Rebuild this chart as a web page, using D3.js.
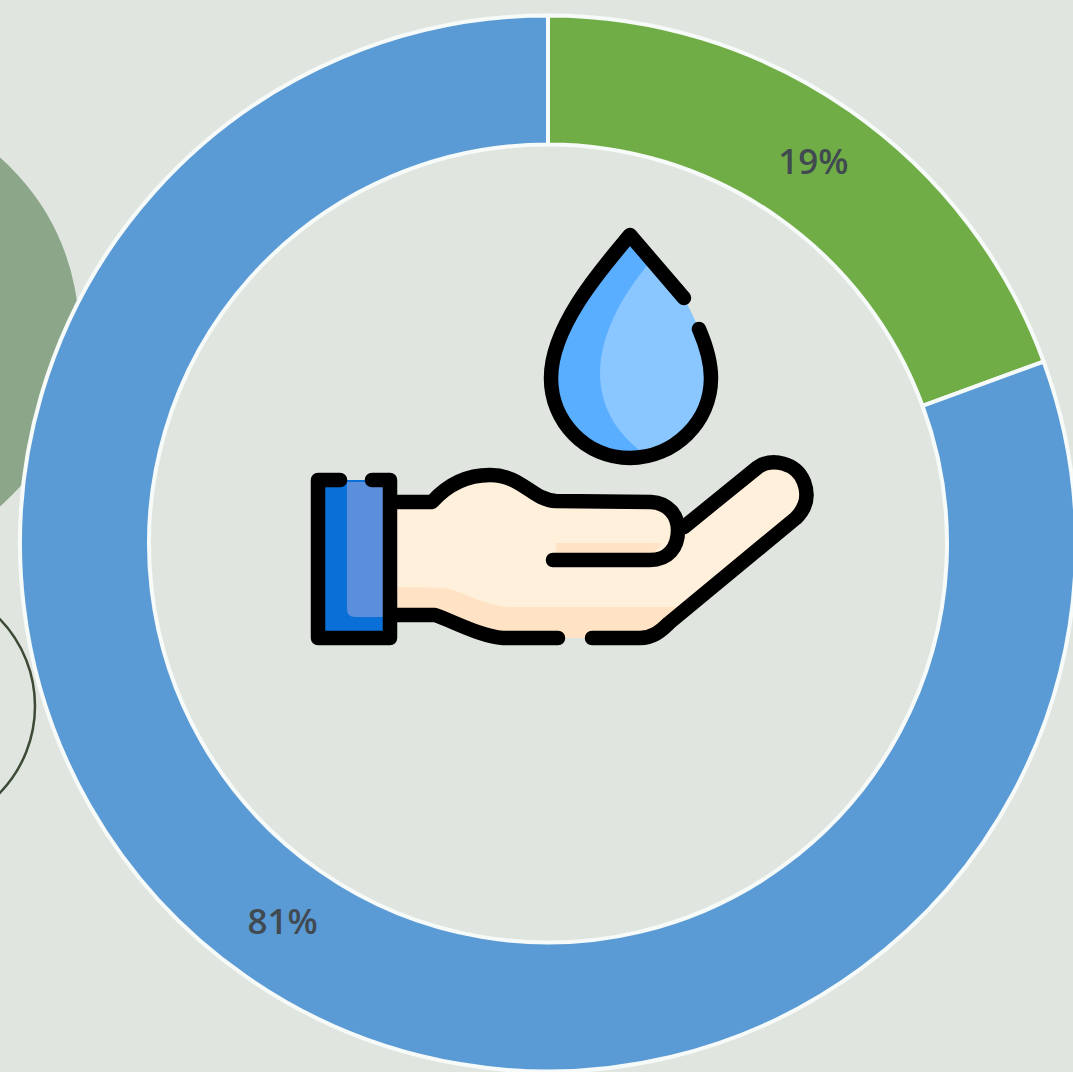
<!DOCTYPE html>
<html>
<head>
<meta charset="utf-8">
<title>Water share</title>
<script src="https://cdn.jsdelivr.net/npm/d3@7"></script>
<style>
  html, body { margin: 0; padding: 0; background: #e0e6df; overflow: hidden; }
  svg { display: block; }
</style>
</head>
<body>
<svg id="chart"></svg>
<script>
var categories = ["Green", "Blue"];
var values = [19.4, 80.6];
var labels = ["19%", "81%"];
var colors = ["#70ad47", "#5b9bd5"];

(function () {
  var W = 1073;
  var H = 1072;
  var cx = 548;
  var cy = 543.5;
  var outerR = 528;
  var innerR = 399;

  var svg = d3.select("#chart").attr("width", W).attr("height", H);

  svg.append("rect").attr("width", W).attr("height", H).attr("fill", "#e0e6df");

  // slide decoration behind the ring
  svg.append("circle")
    .attr("cx", -153).attr("cy", 332).attr("r", 232)
    .attr("fill", "#8ca68a");
  svg.append("circle")
    .attr("cx", -90).attr("cy", 706).attr("r", 125)
    .attr("fill", "none")
    .attr("stroke", "#3c4a36")
    .attr("stroke-width", 2.5);

  var pie = d3.pie().sort(null).value(function (d) { return d.value; });
  var arc = d3.arc().innerRadius(innerR).outerRadius(outerR);

  var rows = categories.map(function (c, i) {
    return { name: c, value: values[i], label: labels[i], color: colors[i] };
  });

  var g = svg.append("g").attr("transform", "translate(" + cx + "," + cy + ")");

  g.selectAll("path.slice")
    .data(pie(rows))
    .join("path")
    .attr("class", "slice")
    .attr("d", arc)
    .attr("fill", function (d) { return d.data.color; })
    .attr("stroke", "#f6faf8")
    .attr("stroke-width", 4);

  g.selectAll("text.pct")
    .data(pie(rows))
    .join("text")
    .attr("class", "pct")
    .attr("transform", function (d) { return "translate(" + arc.centroid(d) + ")"; })
    .attr("text-anchor", "middle")
    .attr("dy", "0.3em")
    .attr("fill", "#404a50")
    .style("font-family", "'Open Sans', sans-serif")
    .style("font-size", "35px")
    .style("font-weight", 600)
    .text(function (d) { return d.data.label; });

  // hand and drop icon, in page pixels
  var icon = svg.append("g");
  var line = { fill: "none", stroke: "#000", "stroke-width": 14.5, "stroke-linecap": "round", "stroke-linejoin": "round" };

  function shape(d, fill) {
    icon.append("path").attr("d", d).attr("fill", fill);
  }
  function stroke(d) {
    var p = icon.append("path").attr("d", d);
    Object.keys(line).forEach(function (k) { p.attr(k, line[k]); });
  }

  // drop
  shape("M630 235C605 265 551 325 551 378C551 422 586 458 630 458C674 458 711 422 711 378C711 360 705 343 699 329L684 298Z", "#5aaeff");
  shape("M650 262C622 295 600 335 600 373C600 405 615 432 642 452C682 450 711 420 711 378C711 360 705 343 699 329L684 298L660 270Z", "#8ac6ff");
  stroke("M684 298L630 235C605 265 551 325 551 378C551 422 586 458 630 458C674 458 711 422 711 378C711 360 705 343 699 329");

  // hand
  shape("M397 502L432 502C448 484 468 475 490 475C522 475 532 500 556 501L651 502C668 503 679 515 680 530L758 467C772 458 796 462 804 482C810 498 804 510 796 518L669 623C660 632 652 638 640 638L503 638C480 636 455 622 435 615L397 615Z", "#fff0dc");
  shape("M397 587L445 588C465 592 485 606 510 607L665 607L685 607L669 623C660 632 652 638 640 638L503 638C480 636 455 622 435 615L397 615Z", "#ffe3c4");
  shape("M556 543L662 543C656 552 650 556 645 560L556 560Z", "#ffe3c4");
  shape("M685 607L790 518L796 518L669 623Z", "#ffe3c4");
  stroke("M397 502L432 502C448 484 468 475 490 475C522 475 532 500 556 501L651 502C668 503 678 515 678 530C678 548 668 560 650 560L553 560");
  stroke("M684 527L758 467C772 458 796 462 804 482C810 498 804 510 796 518L669 623C660 632 652 638 640 638L592 638");
  stroke("M558 638L503 638C480 636 455 622 435 615L397 615");

  // cuff
  shape("M318 480H390V638H318Z", "#0a6fd6");
  shape("M347 482H384V617H355Q347 617 347 609Z", "#5b8fdc");
  stroke("M340 480L318 480L318 638L390 638L390 480L372 480");
})();
</script>
</body>
</html>
